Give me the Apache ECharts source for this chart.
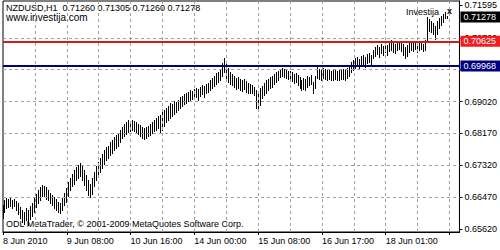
<!DOCTYPE html>
<html>
<head>
<meta charset="utf-8">
<script src="https://cdn.jsdelivr.net/npm/echarts@6/dist/echarts.min.js"></script>
<style>
  html, body { margin: 0; padding: 0; background: #fff; }
  #chart { width: 500px; height: 250px; }
</style>
</head>
<body>
<div id="chart"></div>
<script>
  // NZDUSD H1 bars, high / low of each hourly bar (16 bars a row)
  var highs = [
    0.6626,0.6639,0.6645,0.6642,0.6645,0.6639,0.6642,0.6637,0.6631,0.6621,0.6613,0.6607,0.6618,0.6613,0.6623,0.6631,
    0.6645,0.6655,0.6666,0.6674,0.6679,0.6677,0.6674,0.6666,0.6658,0.6653,0.6647,0.6642,0.6634,0.6631,0.6645,0.6658,
    0.6671,0.6687,0.6698,0.6709,0.6719,0.6727,0.6733,0.6738,0.6730,0.6719,0.6706,0.6693,0.6682,0.6698,0.6714,0.6730,
    0.6741,0.6751,0.6762,0.6773,0.6781,0.6783,0.6794,0.6799,0.6807,0.6813,0.6818,0.6826,0.6834,0.6842,0.6847,0.6853,
    0.6850,0.6853,0.6850,0.6847,0.6842,0.6839,0.6834,0.6831,0.6834,0.6837,0.6842,0.6847,0.6853,0.6858,0.6863,0.6866,
    0.6874,0.6879,0.6885,0.6890,0.6898,0.6895,0.6903,0.6901,0.6906,0.6914,0.6917,0.6922,0.6925,0.6927,0.6933,0.6930,
    0.6935,0.6938,0.6935,0.6941,0.6946,0.6943,0.6949,0.6951,0.6959,0.6965,0.6970,0.6978,0.6981,0.6986,0.7005,0.7018,
    0.7007,0.6991,0.6981,0.6975,0.6970,0.6965,0.6967,0.6962,0.6959,0.6962,0.6957,0.6951,0.6949,0.6946,0.6941,0.6933,
    0.6927,0.6938,0.6943,0.6951,0.6959,0.6962,0.6967,0.6970,0.6975,0.6981,0.6983,0.6989,0.6991,0.6989,0.6986,0.6983,
    0.6983,0.6981,0.6975,0.6978,0.6973,0.6967,0.6959,0.6965,0.6962,0.6970,0.6967,0.6973,0.6954,0.6970,0.6994,0.6989,
    0.6986,0.6991,0.6989,0.6986,0.6989,0.6983,0.6986,0.6989,0.6983,0.6986,0.6989,0.6989,0.6986,0.6991,0.6997,0.7007,
    0.7013,0.7018,0.7021,0.7015,0.7023,0.7026,0.7021,0.7029,0.7031,0.7026,0.7039,0.7047,0.7053,0.7047,0.7055,0.7050,
    0.7058,0.7053,0.7061,0.7066,0.7058,0.7055,0.7061,0.7063,0.7058,0.7055,0.7047,0.7053,0.7058,0.7063,0.7058,0.7061,
    0.7055,0.7058,0.7061,0.7055,0.7066,0.7127,0.7122,0.7117,0.7111,0.7103,0.7117,0.7125,0.7130,0.7135,0.7141,0.71305
  ];
  var lows = [
    0.6591,0.6607,0.6618,0.6621,0.6623,0.6618,0.6623,0.6613,0.6602,0.6591,0.6581,0.6575,0.6586,0.6573,0.6589,0.6597,
    0.6607,0.6621,0.6631,0.6639,0.6650,0.6650,0.6642,0.6639,0.6631,0.6626,0.6618,0.6613,0.6607,0.6605,0.6613,0.6626,
    0.6634,0.6650,0.6666,0.6677,0.6682,0.6693,0.6698,0.6703,0.6693,0.6679,0.6666,0.6653,0.6647,0.6655,0.6677,0.6693,
    0.6703,0.6714,0.6725,0.6735,0.6746,0.6751,0.6759,0.6765,0.6773,0.6778,0.6783,0.6794,0.6805,0.6810,0.6815,0.6821,
    0.6823,0.6826,0.6823,0.6818,0.6815,0.6810,0.6805,0.6802,0.6805,0.6810,0.6813,0.6818,0.6823,0.6826,0.6831,0.6818,
    0.6826,0.6837,0.6847,0.6853,0.6858,0.6863,0.6869,0.6874,0.6879,0.6885,0.6890,0.6895,0.6898,0.6903,0.6906,0.6909,
    0.6911,0.6914,0.6906,0.6917,0.6922,0.6914,0.6925,0.6927,0.6933,0.6938,0.6943,0.6949,0.6954,0.6959,0.6970,0.6981,
    0.6959,0.6954,0.6949,0.6946,0.6941,0.6935,0.6938,0.6933,0.6930,0.6935,0.6927,0.6925,0.6925,0.6925,0.6919,0.6885,
    0.6879,0.6893,0.6911,0.6919,0.6925,0.6933,0.6938,0.6941,0.6949,0.6954,0.6959,0.6967,0.6970,0.6967,0.6965,0.6962,
    0.6959,0.6957,0.6951,0.6954,0.6946,0.6938,0.6933,0.6935,0.6933,0.6941,0.6946,0.6949,0.6925,0.6938,0.6965,0.6962,
    0.6959,0.6965,0.6962,0.6959,0.6962,0.6959,0.6959,0.6962,0.6959,0.6959,0.6962,0.6962,0.6959,0.6965,0.6970,0.6981,
    0.6986,0.6991,0.6997,0.6991,0.6999,0.7002,0.6994,0.7005,0.7007,0.7002,0.7018,0.7023,0.7029,0.7021,0.7031,0.7026,
    0.7034,0.7026,0.7037,0.7039,0.7034,0.7031,0.7039,0.7042,0.7037,0.7026,0.7018,0.7023,0.7034,0.7039,0.7037,0.7042,
    0.7034,0.7039,0.7042,0.7037,0.7039,0.7066,0.7090,0.7087,0.7082,0.7069,0.7082,0.7098,0.7106,0.7114,0.7125,0.71260
  ];
  // time labels, one every 32 bars
  var timeLabels = ['8 Jun 2010', '9 Jun 08:00', '10 Jun 16:00', '14 Jun 00:00', '15 Jun 08:00', '16 Jun 17:00', '18 Jun 01:00'];
  var priceTicks = [0.65620, 0.66470, 0.67320, 0.68170, 0.69020, 0.69870, 0.70720, 0.71595];
  // 0.69870 sits fully under the blue price box, so no text for it
  var priceLabels = [0.65620, 0.66470, 0.67320, 0.68170, 0.69020, 0.70720, 0.71595];
  var priceGrid = [0.66470, 0.67320, 0.68170, 0.69020, 0.69870, 0.70720];
  var resistance = 0.70625;
  var support = 0.69968;
  var lastPrice = 0.71278;
  var ohlcText = 'NZDUSD,H1  0.71260 0.71305 0.71260 0.71278';

  var totalSlots = 230; // bars + empty shift on the right
  var cats = [];
  for (var i = 0; i < totalSlots; i++) cats.push(i);
  var bars = highs.map(function (h, i) { return [i, h, lows[i]]; });

  // dashed grid, one vertical line every 16 bars
  var gridLines = [];
  for (var k = 16; k < totalSlots; k += 16) gridLines.push({ xAxis: k });
  priceGrid.forEach(function (p) { gridLines.push({ yAxis: p }); });

  var font = '"Liberation Sans", Arial, sans-serif';
  var chart = echarts.init(document.getElementById('chart'), null, { renderer: 'svg' });
  var option = {
    animation: false,
    textStyle: { fontFamily: font },
    grid: {
      left: 3, right: 39, top: 1, bottom: 18,
      show: true, backgroundColor: 'transparent', borderColor: '#000', borderWidth: 1
    },
    xAxis: {
      type: 'category',
      data: cats,
      boundaryGap: false,
      axisLine: { lineStyle: { color: '#000', width: 1 } },
      axisTick: { interval: 31, length: 3, lineStyle: { color: '#000' } },
      axisLabel: {
        interval: 31, align: 'left', margin: 4,
        fontSize: 9, color: '#000', fontFamily: font,
        formatter: function (v, idx) { return timeLabels[idx / 32] || ''; }
      },
      splitLine: { show: false }
    },
    yAxis: {
      type: 'value',
      position: 'right',
      min: 0.65540,
      max: 0.71702,
      axisLine: { show: true, lineStyle: { color: '#000' } },
      axisTick: { show: true, length: 3, customValues: priceTicks, lineStyle: { color: '#000' } },
      axisLabel: {
        customValues: priceLabels, margin: 5, fontSize: 9, color: '#000', fontFamily: font,
        formatter: function (v) { return v.toFixed(5); }
      },
      splitLine: { show: false }
    },
    series: [
      {
        type: 'line',
        data: [],
        markLine: {
          silent: true,
          symbol: 'none',
          precision: 5,
          label: { show: false },
          lineStyle: { color: '#a0a0a0', width: 1, type: [3, 3] },
          data: gridLines
        }
      },
      {
        type: 'custom',
        data: bars,
        encode: { x: 0, y: [1, 2] },
        renderItem: function (params, api) {
          var top = api.coord([api.value(0), api.value(1)]);
          var bot = api.coord([api.value(0), api.value(2)]);
          var x = Math.floor(top[0]) + 0.5;
          return {
            type: 'line',
            shape: { x1: x, y1: Math.round(top[1]), x2: x, y2: Math.round(bot[1]) + 1 },
            style: { stroke: '#000', lineWidth: 1 }
          };
        }
      },
      {
        type: 'line',
        data: [],
        markLine: {
          silent: true,
          symbol: 'none',
          precision: 5,
          label: {
            position: 'end', distance: 1, fontSize: 9, fontFamily: font,
            color: '#fff', padding: [1, 4, 1, 3],
            formatter: function (p) { return (+p.value).toFixed(5); }
          },
          data: [
            { yAxis: resistance, lineStyle: { color: '#d21c1c', width: 2, type: 'solid' },
              label: { backgroundColor: '#f01e1e' } },
            { yAxis: support, lineStyle: { color: '#000080', width: 2, type: 'solid' },
              label: { backgroundColor: '#000080' } },
            { yAxis: lastPrice, lineStyle: { color: 'rgba(0,0,0,0)', width: 1, type: 'solid' },
              label: { backgroundColor: '#000' } }
          ]
        }
      }
    ],
    graphic: [
      { type: 'text', left: 6, top: 3, style: { text: ohlcText, font: '9px ' + font, fill: '#000' } },
      { type: 'text', left: 6, top: 12, style: { text: 'www.investija.com', font: '10px ' + font, fill: '#000' } },
      { type: 'text', left: 6, top: 219, style: { text: 'ODL MetaTrader, \u00a9 2001-2009 MetaQuotes Software Corp.', font: '9px ' + font, fill: '#000' } },
      { type: 'text', left: 406, top: 7, style: { text: 'Investija', font: '9px ' + font, fill: '#000' } },
      { type: 'text', left: 447, top: 6, style: { text: 'x', font: 'bold 9px ' + font, fill: '#000' } }
    ]
  };
  chart.setOption(option);
</script>
</body>
</html>
